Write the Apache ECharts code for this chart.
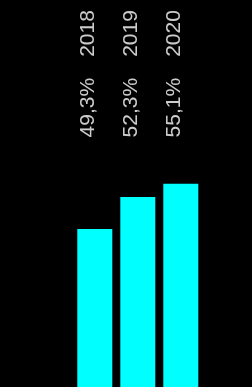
<!DOCTYPE html>
<html lang="en">
<head>
<meta charset="UTF-8">
<title>Chart</title>
<script src="https://cdn.jsdelivr.net/npm/echarts@6/dist/echarts.min.js"></script>
<style>
  html, body { margin: 0; padding: 0; background: #000; }
</style>
</head>
<body>
<div id="main" style="width: 252px;height: 387px;"></div>
<script>
var years = ['2018', '2019', '2020'];
var shares = ['49,3%', '52,3%', '55,1%'];
// bar heights (0-100 scale)
var barValues = [40.8, 49.1, 52.5];
// where the rotated labels start
var labelBase = [64.5, 64.5, 64.5];

var myChart = echarts.init(document.getElementById('main'));

var option = {
  animation: false,
  backgroundColor: '#000',
  grid: { left: 73.3, right: 49.7, top: 0, bottom: 0 },
  xAxis: {
    type: 'category',
    data: years,
    show: false
  },
  yAxis: {
    type: 'value',
    min: 0,
    max: 100,
    show: false
  },
  series: [{
      type: 'bar',
      barWidth: 35,
      itemStyle: { color: '#00ffff' },
      data: barValues
    },
    {
      type: 'scatter',
      symbolSize: 0,
      silent: true,
      label: {
        show: true,
        position: 'inside',
        rotate: 90,
        align: 'left',
        verticalAlign: 'middle',
        offset: [0, -7],
        color: '#fff',
        fontSize: 21,
        fontFamily: '"Liberation Sans", Arial, sans-serif',
        formatter: function (p) {
          return shares[p.dataIndex] + '\u2003' + years[p.dataIndex];
        }
      },
      data: labelBase
    }
  ]
};
myChart.setOption(option);
</script>
</body>
</html>
